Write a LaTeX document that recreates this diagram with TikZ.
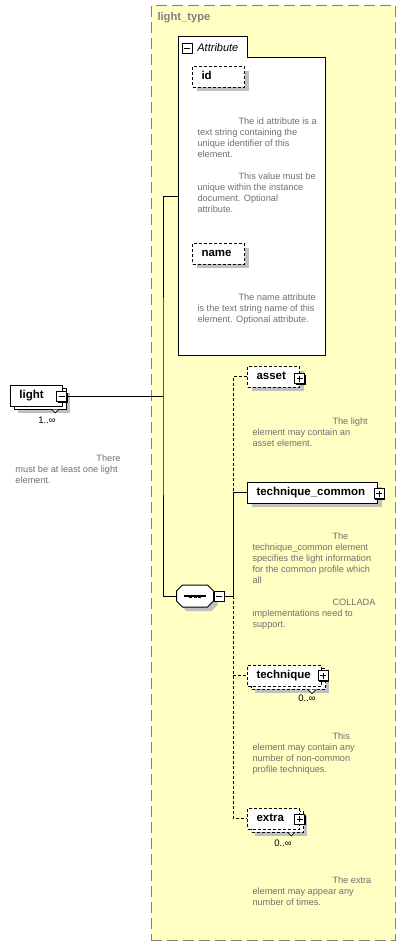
\documentclass[tikz,border=0pt]{standalone}
\usepackage{fontspec}
\setmainfont{Liberation Sans}
\usetikzlibrary{positioning, shadows}
\definecolor{typeyellow}{RGB}{255,255,196}
\definecolor{boxgray}{RGB}{128,128,128}
\definecolor{descgray}{RGB}{112,112,112}
\definecolor{shadowgray}{RGB}{192,192,192}
\newcommand{\descfont}{\fontsize{9.2pt}{11pt}\selectfont}
\newcommand{\elemfont}{\fontsize{11.5pt}{13pt}\selectfont\bfseries}

\begin{document}
\begin{tikzpicture}[
x=1pt, y=-1pt, line width=1pt,
typebox/.style={draw=boxgray, fill=typeyellow, line width=1.3pt, dash pattern=on 11pt off 5pt, anchor=north west, inner sep=0pt},
typelabel/.style={font=\fontsize{11.2pt}{13pt}\selectfont\bfseries, text=boxgray, anchor=west, inner sep=0pt},
elshadow/.style={drop shadow={shadow xshift=4pt, shadow yshift=-4pt, fill=shadowgray, opacity=1}},
multishadow/.style={drop shadow={shadow xshift=7pt, shadow yshift=-7pt, fill=shadowgray, opacity=1}, preaction={draw, fill=white, transform canvas={shift={(4pt,-3pt)}}}},
elem/.style={draw, fill=white, anchor=north west, inner xsep=9pt, inner ysep=0pt, minimum height=20.5pt, text height=8pt, text depth=2.5pt, align=left, font=\elemfont},
optbox/.style={elem, dash pattern=on 3pt off 2pt},
optline/.style={dash pattern=on 3pt off 2pt},
pmbox/.style={draw, fill=white, minimum size=10pt, inner sep=0pt, line width=0.8pt},
pmshadow/.style={drop shadow={shadow xshift=1pt, shadow yshift=-1pt, fill=black, opacity=1}},
minus/.style={pmbox, path picture={\draw ([xshift=2pt]path picture bounding box.west) -- ([xshift=-2pt]path picture bounding box.east);}},
plus/.style={pmbox, path picture={
  \draw ([xshift=2pt]path picture bounding box.west) -- ([xshift=-2pt]path picture bounding box.east);
  \draw ([yshift=-2pt]path picture bounding box.north) -- ([yshift=2pt]path picture bounding box.south);}},
octagon/.style={insert path={([xshift=6pt]#1.north west) -- ([xshift=-6pt]#1.north east) -- ([yshift=-6pt]#1.north east) -- ([yshift=6pt]#1.south east) -- ([xshift=-6pt]#1.south east) -- ([xshift=6pt]#1.south west) -- ([yshift=6pt]#1.south west) -- ([yshift=-6pt]#1.north west) -- cycle}},
notch/.style={fill=white, line width=0.7pt},
desc/.style={anchor=north west, align=left, font=\descfont, text=descgray, inner sep=0pt},
mult/.style={font=\fontsize{9.5pt}{11pt}\selectfont, inner sep=0pt}
]
\useasboundingbox (0,0) rectangle (406,946);

% complex type container
\node[typebox, minimum width=244.5pt, minimum height=935pt] (type_box) at (150.5,5) {};
\node[typelabel] (type_label) at (157,18) {light\_type};

% attribute group
\node[inner sep=0pt, anchor=north west, minimum width=146pt, minimum height=297pt] (attr_box) at (178,57) {};
\node[inner sep=0pt, anchor=south west, minimum width=68pt, minimum height=20pt] (attr_tab) at (attr_box.north west) {};
\draw[fill=white] (attr_box.south west) |- (attr_tab.north east) |- (attr_box.north east) -- (attr_box.south east) -- cycle;
\node[minus] (attr_pm) at (187,48) {};
\node[font=\fontsize{11pt}{13pt}\selectfont\itshape, inner sep=0pt, right=4.5pt of attr_pm] (attr_label) {Attribute};

\node[optbox, elshadow, text width=34pt] (id) at (192,66) {id};
\node[desc] (id_desc) at (197,117) {\hspace*{41pt}The id attribute is a\\text string containing the\\unique identifier of this\\element.\\[11pt]\hspace*{41pt}This value must be\\unique within the instance\\document. Optional\\attribute.};

\node[optbox, elshadow, text width=34pt] (name) at (192,243) {name};
\node[desc] (name_desc) at (197,293.6) {\hspace*{41pt}The name attribute\\is the text string name of this\\element. Optional attribute.};

% root element
\node[elem, multishadow, text width=34pt] (light) at (10,385) {light};
\draw[notch] ([shift={(-11pt,-3pt)}]light.south east) -- ++(3.3pt,-3.3pt) -- ++(3.3pt,3.3pt);
\node[minus, pmshadow] (light_pm) at ([shift={(-1.5pt,-0.75pt)}]light.east) {};
\node[mult] (light_mult) at (47,420) {1..∞};
\node[desc] (light_desc) at (15,454) {\hspace*{81pt}There\\must be at least one light\\element.};

% sequence compositor
\node[inner sep=0pt, minimum width=36pt, minimum height=21pt] (seq) at (195,596) {};
\fill[shadowgray, transform canvas={shift={(4pt,-4pt)}}, octagon=seq];
\draw[fill=white, octagon=seq];
\draw[line width=1.2pt] ([xshift=-11pt]seq.center) -- ([xshift=11pt]seq.center);
\foreach \dx in {-4.5,0,4.5}
  \fill ([xshift=\dx pt]seq.center) +(-1.5pt,-1.5pt) rectangle +(1.5pt,1.5pt);
\node[minus, pmshadow, right=0pt of seq] (seq_pm) {};
\coordinate (attr_in) at (178,196);
\coordinate (trunk_x) at (163,0);
\coordinate (trunk) at (light_pm.east -| trunk_x);
\coordinate (branch) at ([xshift=9pt]seq_pm.east);

% child elements
\node[optbox, elshadow, text width=34pt] (asset) at (247,366) {asset};
\node[plus, pmshadow] (asset_pm) at ([shift={(-0.5pt,-2pt)}]asset.east) {};
\node[desc] (asset_desc) at (252,417) {\hspace*{80pt}The light\\element may contain an\\asset element.};

\node[elem, elshadow, text width=112pt] (tc) at (247,482) {technique\_common};
\node[plus, pmshadow] (tc_pm) at ([shift={(1pt,-1pt)}]tc.east) {};
\node[desc] (tc_desc) at (252,532.3) {\hspace*{80pt}The\\technique\_common element\\specifies the light information\\for the common profile which\\all\\[11pt]\hspace*{80pt}COLLADA\\implementations need to\\support.};

\node[optbox, multishadow, text width=56pt] (technique) at (247,665) {technique};
\draw[notch] ([shift={(-14pt,-3pt)}]technique.south east) -- ++(4pt,-4pt) -- ++(4pt,4pt);
\node[plus, pmshadow] (technique_pm) at ([shift={(1pt,0pt)}]technique.east) {};
\node[mult] (technique_mult) at (307,698) {0..∞};
\node[desc] (technique_desc) at (252,732.3) {\hspace*{80pt}This\\element may contain any\\number of non-common\\profile techniques.};

\node[optbox, multishadow, text width=34pt] (extra) at (247,808) {extra};
\draw[notch] ([shift={(-12pt,-3pt)}]extra.south east) -- ++(3.3pt,-3.3pt) -- ++(3.3pt,3.3pt);
\node[plus, pmshadow] (extra_pm) at ([shift={(-0.5pt,-0.5pt)}]extra.east) {};
\node[mult] (extra_mult) at (283,843) {0..∞};
\node[desc] (extra_desc) at (252,876.3) {\hspace*{80pt}The extra\\element may appear any\\number of times.};

% connectors
\draw (light_pm.east) -- (trunk);
\draw (attr_in) -| (trunk) |- (seq.west);
\draw (seq_pm.east) -- (branch);
\draw[optline] (asset.west) -| (branch |- tc.west);
\draw (tc.west) -| (branch);
\draw[optline] (branch) -- (branch |- extra.west) -- (extra.west);
\draw[optline] (branch |- technique.west) -- (technique.west);

\end{tikzpicture}
\end{document}
